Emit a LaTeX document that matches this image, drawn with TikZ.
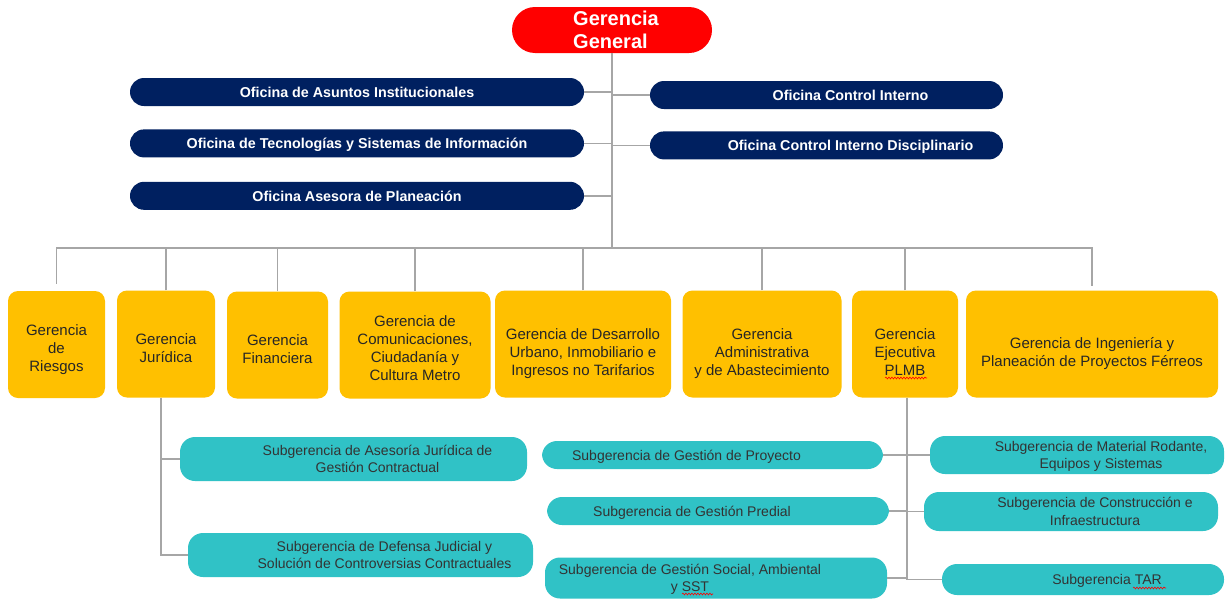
\documentclass[tikz,border=0pt]{standalone}
\usepackage{fontspec}
\setmainfont{Liberation Sans}
\usepackage{xcolor}
\usetikzlibrary{positioning,decorations.pathmorphing}

\definecolor{rojo}{HTML}{FF0000}
\definecolor{azulofi}{HTML}{002060}
\definecolor{amarillo}{HTML}{FFC000}
\definecolor{turquesa}{HTML}{30C2C6}
\definecolor{linea}{HTML}{A6A6A6}

% texto corrido a derecha / izquierda dentro de la caja
\newcommand{\der}[1]{\hspace*{48pt}#1}
\newcommand{\izq}[1]{#1\hspace*{52pt}}
\newcommand{\baja}[1]{\rule{0pt}{#1}}

\begin{document}
\begin{tikzpicture}[x=1pt,y=-1pt,
    conn/.style={draw=linea, line width=1.4pt},
    ofibox/.style={rectangle, rounded corners=14pt, fill=azulofi, text=white, inner sep=0pt,
                   minimum height=28pt, font=\fontsize{14.3}{16}\selectfont\bfseries},
    gerbox/.style={rectangle, rounded corners=10pt, fill=amarillo, text=black!85, inner sep=0pt,
                   align=center, minimum height=107pt, font=\fontsize{15}{18}\selectfont},
    subbox/.style={rectangle, rounded corners=15pt, fill=turquesa, text=black!80, inner sep=0pt,
                   align=center, font=\fontsize{14}{17.5}\selectfont},
    ortog/.style={draw=red, line width=0.6pt, decorate,
                  decoration={snake, amplitude=0.9pt, segment length=3pt}}]
  \tikzstyle{every node}=[text depth=0pt]

  \fill[white] (0,0) rectangle (1227,600);
  \useasboundingbox (0,0) rectangle (1227,600);

  % cabeza
  \node[rectangle, rounded corners=23pt, fill=rojo, text=white, align=left, inner sep=0pt,
        minimum width=200pt, minimum height=46pt, font=\fontsize{20}{23}\selectfont\bfseries]
        (gg) at (612,30) {\hspace*{8pt}Gerencia\\\hspace*{8pt}General};

  % oficinas
  \node[ofibox, minimum width=454pt]                 (asu) at (357,92)    {Oficina de Asuntos Institucionales};
  \node[ofibox, minimum width=454pt, below=23pt of asu] (tec)            {Oficina de Tecnologías y Sistemas de Información};
  \node[ofibox, minimum width=454pt, below=24pt of tec] (pla)            {Oficina Asesora de Planeación};
  \node[ofibox, minimum width=353pt]                 (ci)  at (826.5,95)  {\der{Oficina Control Interno}};
  \node[ofibox, minimum width=353pt, below=22pt of ci]  (cid)            {\der{Oficina Control Interno Disciplinario}};

  % gerencias
  \node[gerbox, minimum width=97pt]  (rie) at (56.5,344.5) {\baja{18.5pt}Gerencia\\de\\Riesgos};
  \node[gerbox, minimum width=98pt]  (jur) at (166,344)    {\baja{19.5pt}Gerencia\\Jurídica};
  \node[gerbox, minimum width=101pt] (fin) at (277.5,345)  {\baja{18.5pt}Gerencia\\Financiera};
  \node[gerbox, minimum width=151pt] (com) at (415,345)    {\baja{16.5pt}Gerencia de\\Comunicaciones,\\Ciudadanía y\\Cultura Metro};
  \node[gerbox, minimum width=176pt] (des) at (583,344)    {\baja{26.5pt}Gerencia de Desarrollo\\Urbano, Inmobiliario e\\Ingresos no Tarifarios};
  \node[gerbox, minimum width=159pt] (adm) at (762,344)    {\baja{26.5pt}Gerencia\\Administrativa\\y de Abastecimiento};
  \node[gerbox, minimum width=106pt] (eje) at (905,344)    {\baja{26.5pt}Gerencia\\Ejecutiva\\PLMB};
  \node[gerbox, minimum width=252pt] (ing) at (1092,344)   {\baja{26.5pt}Gerencia de Ingeniería y\\Planeación de Proyectos Férreos};

  % subgerencias
  \node[subbox, minimum width=347pt, minimum height=44pt] (sj1) at (353.5,459) {\der{Subgerencia de Asesoría Jurídica de}\\\der{Gestión Contractual}};
  \node[subbox, minimum width=345pt, minimum height=44pt] (sj2) at (360.5,555) {\der{Subgerencia de Defensa Judicial y}\\\der{Solución de Controversias Contractuales}};
  \node[subbox, minimum width=341pt, minimum height=28pt] (pro) at (712.5,455) {\izq{Subgerencia de Gestión de Proyecto}};
  \node[subbox, minimum width=342pt, minimum height=28pt] (pre) at (718,511)   {\izq{Subgerencia de Gestión Predial}};
  \node[subbox, minimum width=342pt, minimum height=41pt] (soc) at (716,578)   {\izq{Subgerencia de Gestión Social, Ambiental}\\\izq{y SST}};
  \node[subbox, minimum width=294pt, minimum height=38pt] (mat) at (1077,455)  {\der{Subgerencia de Material Rodante,}\\\der{Equipos y Sistemas}};
  \node[subbox, minimum width=294pt, minimum height=39pt] (con) at (1071,511.5) {\der{Subgerencia de Construcción e}\\\der{Infraestructura}};
  \node[subbox, minimum width=282pt, minimum height=31pt] (tar) at (1083,579.5) {\der{Subgerencia TAR}};

  % lineas
  \coordinate (bus) at (611,248);
  \draw[conn] (gg.south) -- (gg.south |- bus);
  \foreach \o in {asu,tec,pla} \draw[conn] (\o.east) -- (\o.east -| gg.south);
  \foreach \o in {ci,cid} \draw[conn] (\o.west) -- (\o.west -| gg.south);
  \draw[conn] ([yshift=7pt]rie.north) |- (bus) -| ([yshift=4pt]ing.north);
  \foreach \g in {jur,fin,com,des,adm,eje} \draw[conn] (\g.north) -- (\g.north |- bus);

  \draw[conn] ([xshift=-5pt]jur.south) coordinate (jt) |- (sj2.west);
  \draw[conn] (jt |- sj1.west) -- (sj1.west);

  \draw[conn] ([xshift=2pt]eje.south) coordinate (et) |- (tar.west);
  \draw[conn] (et |- soc.east) -- (soc.east);
  \foreach \s in {pro,pre} \draw[conn] (\s.east) -- (\s.east -| et);
  \foreach \s in {mat,con} \draw[conn] (\s.west) -- (\s.west -| et);

  % subrayado del corrector
  \draw[ortog] (885,378) -- (927,378);
  \draw[ortog] (682,594) -- (713,594);
  \draw[ortog] (1133,588) -- (1166,588);
\end{tikzpicture}
\end{document}
